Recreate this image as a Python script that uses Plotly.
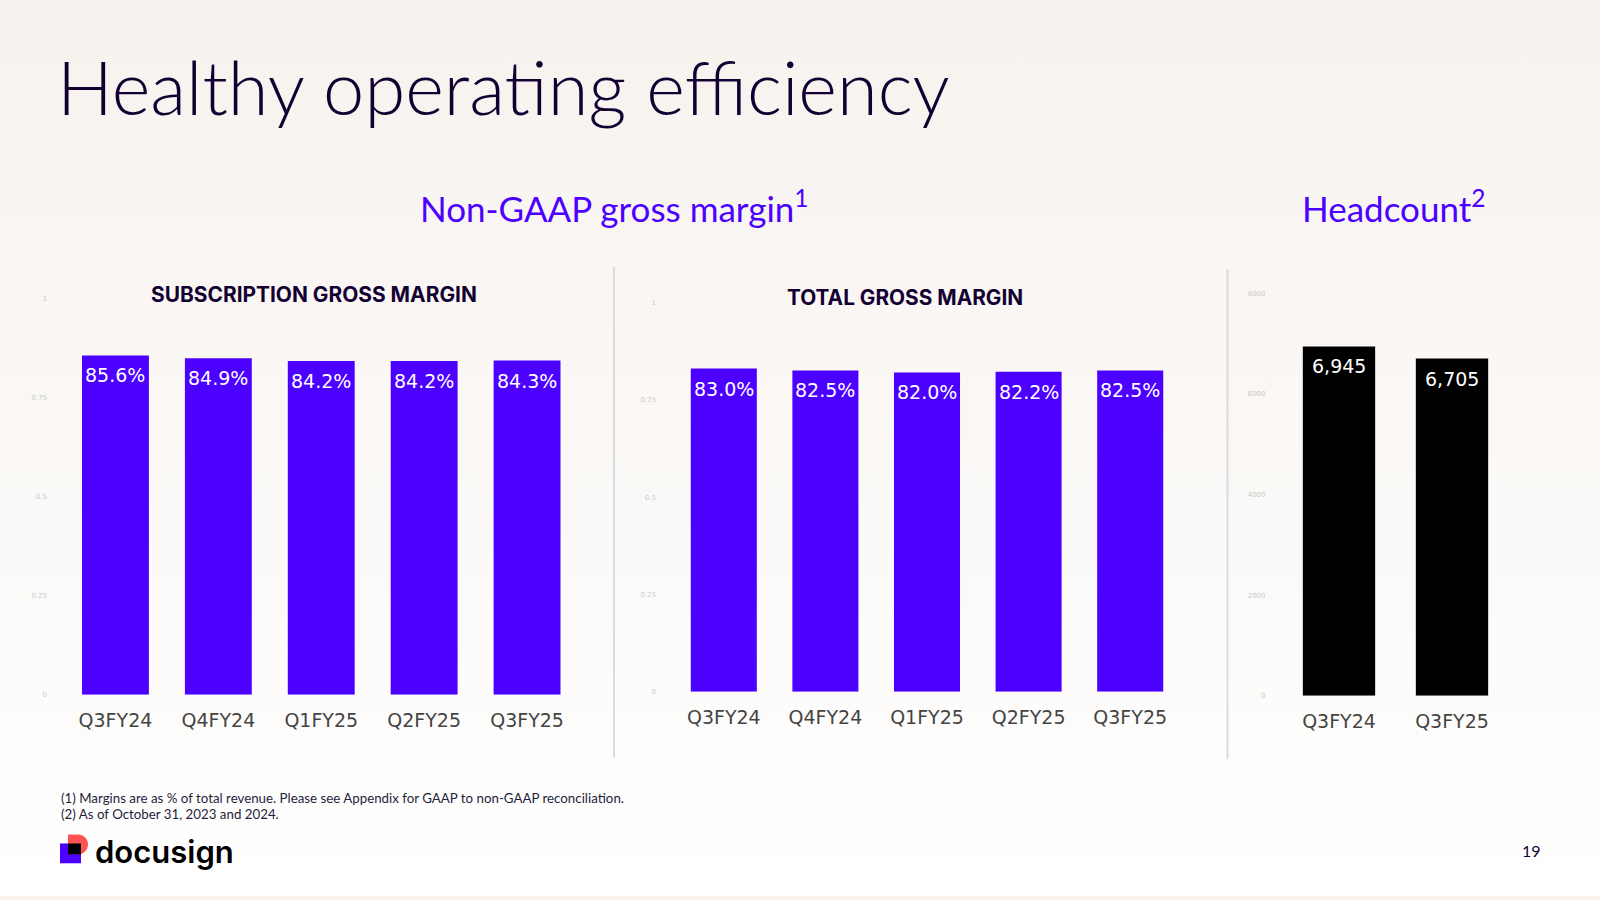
import base64
import plotly.graph_objects as go

# ---------------- data ----------------
quarters = ["Q3FY24", "Q4FY24", "Q1FY25", "Q2FY25", "Q3FY25"]
subscription_margin = [0.856, 0.849, 0.842, 0.842, 0.843]
total_margin = [0.830, 0.825, 0.820, 0.822, 0.825]
headcount_periods = ["Q3FY24", "Q3FY25"]
headcount = [6945, 6705]
margin_ticks = [0, 0.25, 0.5, 0.75, 1]
headcount_ticks = [0, 2000, 4000, 6000, 8000]

W, H = 1600, 900
PURPLE = "#4C00FF"
NAVY = "#130032"
TOP_BG = "#f7f2ee"


def px(x):
    return x / W


def py(y):
    return 1 - y / H


fig = go.Figure()

label_font = dict(family="DejaVu Sans", size=19, color="white")

panels = [
    (quarters, subscription_margin, "x", "y", PURPLE, [f"{v*100:.1f}%" for v in subscription_margin]),
    (quarters, total_margin, "x2", "y2", PURPLE, [f"{v*100:.1f}%" for v in total_margin]),
    (headcount_periods, headcount, "x3", "y3", "#000000", [f"{v:,}" for v in headcount]),
]
for cats, vals, xa, ya, col, labels in panels:
    fig.add_trace(go.Bar(
        x=cats, y=vals, xaxis=xa, yaxis=ya,
        marker=dict(color=col, line=dict(width=0)),
        hoverinfo="skip",
        width=0.64 if xa == "x3" else None,
    ))
    for c, v, t in zip(cats, vals, labels):
        fig.add_annotation(x=c, y=v, xref=xa, yref=ya, text=t, showarrow=False,
                           yanchor="middle", yshift=-20, font=label_font)

xcommon = dict(showgrid=False, zeroline=False, showline=False, ticks="",
               tickfont=dict(family="DejaVu Sans", size=19, color="#444444"),
               ticklabelstandoff=12, fixedrange=True)
ycommon = dict(showgrid=False, zeroline=False, showline=False, ticks="",
               tickfont=dict(family="DejaVu Sans", size=7, color="#c9c9c9"),
               ticklabelstandoff=16, fixedrange=True)

fig.update_layout(
    width=W, height=H,
    margin=dict(l=0, r=0, t=0, b=0),
    paper_bgcolor=TOP_BG, plot_bgcolor="rgba(0,0,0,0)",
    showlegend=False, bargap=0.35, hovermode=False,
    xaxis=dict(domain=[px(64), px(578.5)], anchor="y", **xcommon),
    yaxis=dict(domain=[py(697), py(297)], anchor="x", range=[0, 1],
               tickvals=margin_ticks, **ycommon),
    xaxis2=dict(domain=[px(673), px(1181)], anchor="y2", **xcommon),
    yaxis2=dict(domain=[py(694), py(301)], anchor="x2", range=[0, 1],
                tickvals=margin_ticks, **ycommon),
    xaxis3=dict(domain=[px(1282.5), px(1508.5)], anchor="y3", **xcommon),
    yaxis3=dict(domain=[py(698), py(292)], anchor="x3", range=[0, 8000],
                tickvals=headcount_ticks, **ycommon),
)

# background gradient
svg = ('<svg xmlns="http://www.w3.org/2000/svg" width="1600" height="900" preserveAspectRatio="none">'
       '<defs><linearGradient id="g" x1="0" y1="0" x2="0" y2="1">'
       f'<stop offset="0" stop-color="{TOP_BG}"/>'
       '<stop offset="0.55" stop-color="#fbf9f7"/>'
       '<stop offset="1" stop-color="#ffffff"/>'
       '</linearGradient></defs>'
       '<rect width="1600" height="900" fill="url(#g)"/></svg>')
src = "data:image/svg+xml;base64," + base64.b64encode(svg.encode()).decode()
fig.add_layout_image(dict(source=src, xref="paper", yref="paper", x=0, y=1,
                          sizex=1, sizey=1, xanchor="left", yanchor="top",
                          sizing="stretch", layer="below"))


def ann(text, x, y, size, color, family="Lato", xanchor="center", weight=None):
    font = dict(family=family, size=size, color=color)
    if weight:
        font["weight"] = weight
    fig.add_annotation(text=text, x=px(x), y=py(y), xref="paper", yref="paper",
                       showarrow=False, xanchor=xanchor, yanchor="middle", font=font)


ann("Healthy operating efficiency", 55, 83, 74, NAVY, xanchor="left", weight=300)
ann("Non-GAAP gross margin<sup>1</sup>", 614, 204, 35, PURPLE)
ann("Headcount<sup>2</sup>", 1393, 204, 35, PURPLE)
ann("SUBSCRIPTION GROSS MARGIN", 314, 293, 20.9, NAVY, family="Inter", weight=700)
ann("TOTAL GROSS MARGIN", 904.5, 296, 20.8, NAVY, family="Inter", weight=700)
ann("(1) Margins are as % of total revenue. Please see Appendix for GAAP to non-GAAP reconciliation.",
    59, 801, 13.3, "#1e1e3c", xanchor="left")
ann("(2) As of October 31, 2023 and 2024.", 59, 817, 13.3, "#1e1e3c", xanchor="left")
ann("docusign", 93, 855, 31, "#000000", family="Inter", xanchor="left", weight=600)
ann("19", 1531, 854, 16, NAVY)

# separators
for xs, y0, y1 in [(614, 265, 760), (1227.5, 268, 762)]:
    fig.add_shape(type="line", xref="paper", yref="paper",
                  x0=px(xs), x1=px(xs), y0=py(y0), y1=py(y1),
                  line=dict(color="#dcdcdc", width=2))

# logo mark
fig.add_shape(type="rect", xref="paper", yref="paper",
              x0=px(60), x1=px(81), y0=py(867), y1=py(847),
              fillcolor=PURPLE, line=dict(width=0))
pts = [(68, 838), (78, 838), (83.52, 838), (88, 842.48), (88, 848),
       (88, 853.52), (83.52, 858), (78, 858), (68, 858)]
p = [(px(a), py(b)) for a, b in pts]
path = (f"M {p[0][0]},{p[0][1]} L {p[1][0]},{p[1][1]} "
        f"C {p[2][0]},{p[2][1]} {p[3][0]},{p[3][1]} {p[4][0]},{p[4][1]} "
        f"C {p[5][0]},{p[5][1]} {p[6][0]},{p[6][1]} {p[7][0]},{p[7][1]} "
        f"L {p[8][0]},{p[8][1]} Z")
fig.add_shape(type="path", xref="paper", yref="paper", path=path,
              fillcolor="#FF5252", line=dict(width=0))
fig.add_shape(type="rect", xref="paper", yref="paper",
              x0=px(68), x1=px(81), y0=py(858), y1=py(847),
              fillcolor="#000000", line=dict(width=0))

fig.write_html(
    "out.html",
    config={"displayModeBar": False},
    post_script="document.body.style.margin='0';document.body.style.overflow='hidden';"
                "document.body.style.background='#f7f2ee';",
)
